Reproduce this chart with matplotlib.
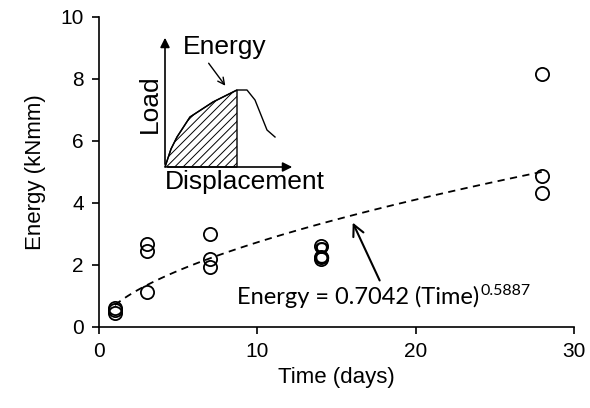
import matplotlib
matplotlib.use("Agg")
import matplotlib.pyplot as plt
import numpy as np
from matplotlib.patches import Polygon, FancyArrowPatch

plt.rcParams["font.family"] = ["Liberation Sans", "DejaVu Sans"]
plt.rcParams["hatch.linewidth"] = 0.7

# measured energy per curing age
time_days = [1, 1, 1, 3, 3, 3, 7, 7, 7, 14, 14, 14, 28, 28, 28]
energy_knmm = [0.45, 0.55, 0.62, 1.14, 2.46, 2.68, 1.95, 2.18, 3.0,
               2.2, 2.25, 2.6, 4.33, 4.87, 8.16]

# power-law fit shown on the chart
FIT_A = 0.7042
FIT_B = 0.5887
fit_t = np.linspace(1, 28, 100)
fit_e = FIT_A * fit_t ** FIT_B

# schematic load-displacement curve for the inset (inset units)
sketch_disp = [0, 6, 12, 25, 48, 72, 82, 90, 102, 110]
sketch_load = [0, 18, 30, 50, 65, 77, 77, 67, 37, 30]
PEAK_IDX = 5

W, H = 590, 408
fig = plt.figure(figsize=(W / 100, H / 100), dpi=100)


def fx(x):
    return x / W


def fy(y):
    return 1 - y / H


ax = fig.add_axes([fx(99), fy(327), fx(574) - fx(99), fy(17) - fy(327)])
ax.plot(time_days, energy_knmm, "o", mfc="none", mec="black", ms=9.5, mew=1.3)
ax.plot(fit_t, fit_e, "--", color="black", lw=1.3, dashes=(4, 3))

ax.set_xlim(0, 30)
ax.set_ylim(0, 10)
ax.set_xticks([0, 10, 20, 30])
ax.set_yticks([0, 2, 4, 6, 8, 10])
for s in ["top", "right"]:
    ax.spines[s].set_visible(False)
for s in ["left", "bottom"]:
    ax.spines[s].set_linewidth(1.2)
ax.tick_params(direction="out", length=5, width=1.2, labelsize=15, pad=6)
ax.set_xlabel("Time (days)", fontsize=16, labelpad=4)
ax.set_ylabel("Energy (kNmm)", fontsize=16, labelpad=10)

# annotation arrow to the fit line
ax.annotate("", xy=(15.95, 3.45), xytext=(17.8, 1.42),
            arrowprops=dict(arrowstyle="->", lw=1.5, color="black",
                            mutation_scale=20))
eq = fig.text(fx(237), fy(304), "Energy = 0.7042 (Time)", fontsize=17,
              family=["Lato", "DejaVu Sans"], va="baseline", ha="left")
fig.canvas.draw()
bb = eq.get_window_extent()
fig.text(bb.x1 / W + 0.002, fy(295), "0.5887", fontsize=11.5,
         family=["Lato", "DejaVu Sans"], va="baseline", ha="left")
fig.text(fx(321), fy(255), "8", fontsize=22, family=["Lato", "DejaVu Sans"],
         va="center", ha="center")

# inset sketch, origin at pixel (165, 167)
ins = fig.add_axes([fx(135), fy(200), fx(335) - fx(135), fy(25) - fy(200)])
ins.set_xlim(-30, 170)
ins.set_ylim(-33, 142)
ins.axis("off")
ins.patch.set_alpha(0)

sx = np.array(sketch_disp, float)
sy = np.array(sketch_load, float)
ins.plot(sx, sy, color="black", lw=1.0)
area = np.column_stack([
    np.r_[sx[:PEAK_IDX + 1], sx[PEAK_IDX]],
    np.r_[sy[:PEAK_IDX + 1], 0],
])
ins.add_patch(Polygon(area, closed=True, facecolor="none", edgecolor="black",
                      lw=1.0, hatch="////"))
ins.add_patch(FancyArrowPatch((0, 0), (0, 132), arrowstyle="-|>",
                              mutation_scale=14, color="black", lw=1.2))
ins.add_patch(FancyArrowPatch((0, 0), (130, 0), arrowstyle="-|>",
                              mutation_scale=14, color="black", lw=1.2))
ins.add_patch(FancyArrowPatch((42, 106), (62, 79), arrowstyle="->",
                              mutation_scale=12, color="black", lw=1.0))
ins.text(60, 120, "Energy", fontsize=19, ha="center", va="center")
ins.text(-15, 63, "Load", fontsize=19, ha="center", va="center",
         rotation=90)
ins.text(80, -15, "Displacement", fontsize=19, ha="center", va="center")

fig.savefig("out.png", dpi=100, facecolor="white")
